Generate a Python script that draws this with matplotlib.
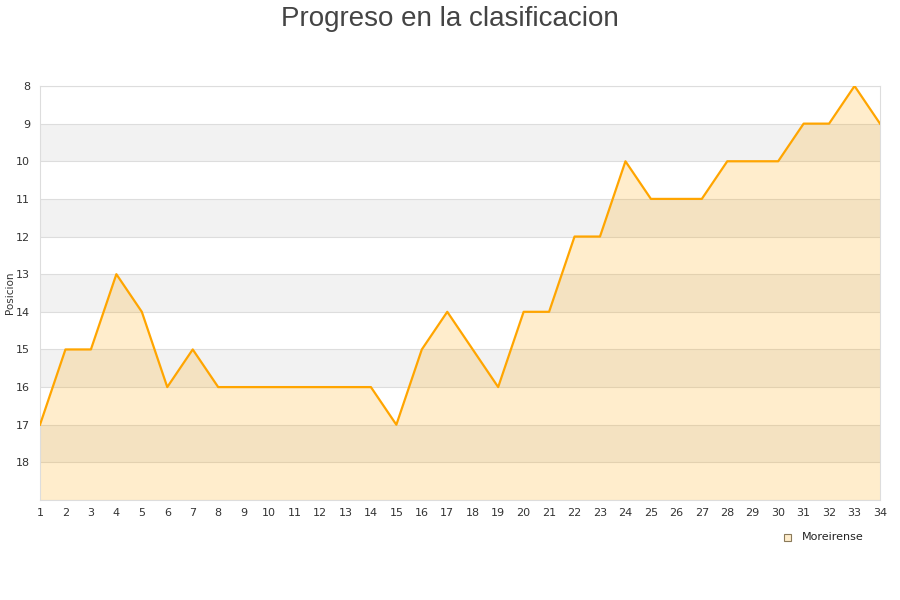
import matplotlib.pyplot as plt

# Data
jornadas = list(range(1, 35))
posicion = [17, 15, 15, 13, 14, 16, 15, 16, 16, 16, 16, 16, 16, 16, 17, 15, 14, 15, 16, 14,
            14, 12, 12, 10, 11, 11, 11, 10, 10, 10, 9, 9, 8, 9]
equipo = 'Moreirense'
y_ticks = list(range(8, 19))

fig = plt.figure(figsize=(9, 6), dpi=100)
ax = fig.add_axes([40 / 900, 1 - 500 / 600, 840 / 900, 414 / 600])

# alternating bands
for y0 in range(9, 19, 2):
    ax.axhspan(y0, y0 + 1, color='#f2f2f2', zorder=0, lw=0)
for y in range(8, 20):
    ax.axhline(y, color='#dddddd', lw=0.8, zorder=1)

ax.fill_between(jornadas, posicion, 19, color='#FFA500', alpha=0.2, lw=0, zorder=2)
ax.plot(jornadas, posicion, color='#FFA500', lw=1.6, zorder=3)

ax.set_xlim(1, 34)
ax.set_ylim(19, 8)
ax.set_xticks(jornadas)
ax.set_yticks(y_ticks)
ax.tick_params(length=0, labelsize=8, colors='#333333')
ax.tick_params(axis='x', pad=6)
ax.tick_params(axis='y', pad=7)
for s in ax.spines.values():
    s.set_color('#dddddd')
ax.set_ylabel('Posicion', fontsize=7.5, color='#333333')
ax.yaxis.set_label_coords(-25 / 840, 0.5)

fig.suptitle('Progreso en la clasificacion', fontsize=20, color='#444444', y=0.99,
             family=['Liberation Sans', 'DejaVu Sans'])

# legend
fig.patches.append(plt.Rectangle((784 / 900, 1 - 541 / 600), 7 / 900, 7 / 600,
                                 transform=fig.transFigure, facecolor='#FFEDCC',
                                 edgecolor='#8a7a5a', lw=0.8))
fig.text(802 / 900, 1 - 537 / 600, equipo, fontsize=8, color='#222222', va='center')

plt.savefig('out.png')
